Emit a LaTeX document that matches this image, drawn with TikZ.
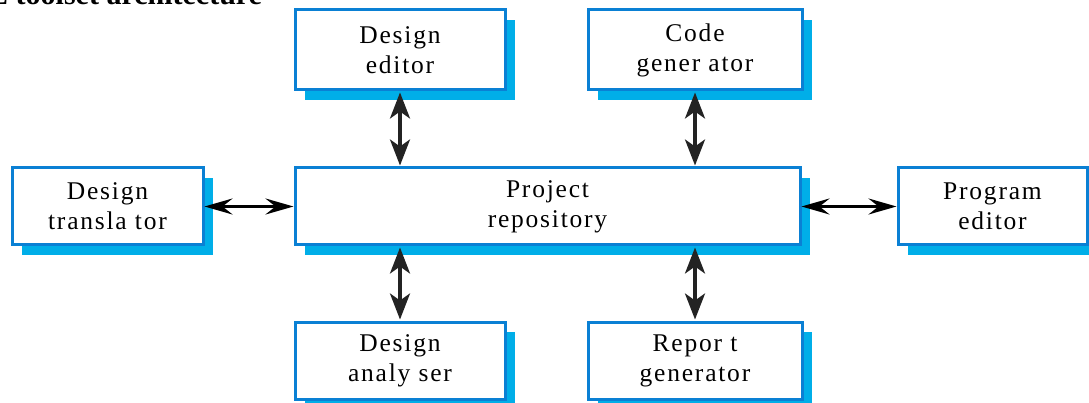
\documentclass[tikz,border=0pt]{standalone}
\usepackage{fontspec}
\setmainfont{Liberation Serif}
\newfontfamily\boxfont[LetterSpace=7]{Liberation Serif}
\usetikzlibrary{arrows.meta,shadows}
\definecolor{bordblue}{RGB}{10,128,212}
\definecolor{shadblue}{RGB}{0,174,232}
\definecolor{arrgray}{RGB}{35,35,35}
\tikzset{
  toolbox/.style={draw=bordblue, line width=3pt, fill=white, align=center,
    inner sep=0pt, font=\boxfont\fontsize{25.5}{30}\selectfont,
    drop shadow={shadow xshift=10pt, shadow yshift=-10pt, fill=shadblue, opacity=1, draw=none}},
  dar/.style={arrgray, line width=3.5pt, {Stealth[length=26pt 0,width=20pt 0,inset=7pt]}-{Stealth[length=26pt 0,width=20pt 0,inset=7pt]}, shorten <=1pt, shorten >=1pt},
  har/.style={black, line width=3pt, {Stealth[length=28pt 0,width=16pt 0,inset=10pt]}-{Stealth[length=28pt 0,width=16pt 0,inset=10pt]}},
}
\begin{document}
\begin{tikzpicture}[x=1pt,y=-1pt]
\useasboundingbox (0,0) rectangle (1089,403);
\clip (0,0) rectangle (1089,403);
\node[anchor=base west, font=\bfseries\fontsize{30}{34}\selectfont, inner sep=0pt] (title) at (-12,5) {E toolset architecture};
\node[toolbox, minimum width=210pt, minimum height=80pt] (ded) at (400,50) {Design\\editor};
\node[toolbox, minimum width=214pt, minimum height=80pt] (cg) at (695,50) {Code\\gener ator};
\node[toolbox, minimum width=505pt, minimum height=77pt] (rep) at (547.5,206.5) {Project\\repository};
\node[toolbox, minimum width=191pt, minimum height=77pt] (tr) at (107.5,206.5) {Design\\transla tor};
\node[toolbox, minimum width=189pt, minimum height=77pt] (pe) at (992.5,206.5) {Program\\editor};
\node[toolbox, minimum width=210pt, minimum height=77pt] (da) at (400,360.5) {Design\\analy ser};
\node[toolbox, minimum width=214pt, minimum height=77pt] (rg) at (695,360.5) {Repor t\\generator};
\draw[dar] (ded.south) -- (rep.north -| ded.south);
\draw[dar] (cg.south) -- (rep.north -| cg.south);
\draw[dar] (rep.south -| da.north) -- (da.north);
\draw[dar] (rep.south -| rg.north) -- (rg.north);
\draw[har] (tr.east) -- (rep.west);
\draw[har] (rep.east) -- (pe.west);
\end{tikzpicture}
\end{document}
